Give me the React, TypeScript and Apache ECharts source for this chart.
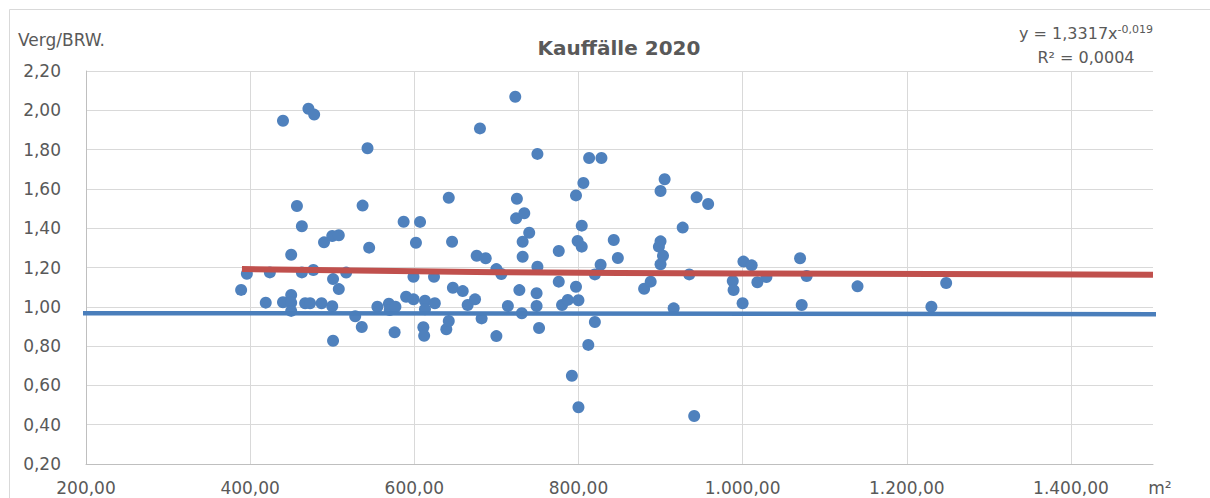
import React, { useEffect, useRef } from "react";
import * as echarts from "echarts";

// Wohnfläche (m²) of each sale
const areaM2 = [
  389, 396, 419, 424, 440, 440, 450, 450, 450, 450, 457, 463, 463, 467, 471, 473, 477, 478, 487, 490,
  500, 500, 501, 501, 508, 508, 517, 528, 536, 537, 543, 545, 555, 569, 570, 577, 576, 587, 590, 599,
  599, 602, 607, 611, 612, 613, 613, 624, 625, 639, 642, 642, 646, 647, 659, 665, 674, 676, 680, 682,
  687, 700, 700, 706, 714, 723, 724, 725, 728, 731, 732, 732, 734, 740, 749, 749, 750, 750, 752, 776,
  776, 780, 787, 792, 797, 797, 799, 800, 800, 804, 804, 806, 812, 813, 820, 820, 827, 828, 843, 848,
  880, 888, 898, 900, 900, 900, 903, 905, 916, 927, 935, 941, 944, 958, 988, 989, 1000, 1001, 1011, 1018,
  1029, 1070, 1072, 1078, 1140, 1230, 1248,
];
// Vergleichswert / BRW ratio of each sale
const ratio = [
  1.086, 1.168, 1.021, 1.175, 1.947, 1.023, 1.265, 1.06, 1.02, 0.979, 1.513, 1.41, 1.175, 1.018, 2.008, 1.018, 1.187, 1.978, 1.018, 1.328,
  1.36, 1.003, 1.141, 0.827, 1.364, 1.09, 1.174, 0.952, 0.897, 1.515, 1.807, 1.301, 1.0, 1.016, 0.984, 1.0, 0.87, 1.433, 1.051, 1.153,
  1.038, 1.326, 1.432, 0.896, 0.853, 1.031, 0.987, 1.153, 1.018, 0.886, 0.928, 1.555, 1.331, 1.097, 1.08, 1.009, 1.038, 1.26, 1.908, 0.941,
  1.247, 1.192, 0.851, 1.167, 1.004, 2.069, 1.45, 1.55, 1.085, 0.967, 1.255, 1.331, 1.476, 1.377, 1.069, 1.004, 1.778, 1.204, 0.892, 1.284,
  1.128, 1.009, 1.035, 0.649, 1.567, 1.102, 1.335, 1.033, 0.489, 1.413, 1.306, 1.63, 0.806, 1.757, 1.165, 0.923, 1.214, 1.757, 1.34, 1.248,
  1.092, 1.128, 1.306, 1.589, 1.333, 1.216, 1.26, 1.649, 0.992, 1.403, 1.165, 0.444, 1.557, 1.523, 1.131, 1.085, 1.018, 1.23, 1.211, 1.125,
  1.152, 1.247, 1.009, 1.157, 1.104, 1.0, 1.121,
];

// power trendline
const trendX = [390, 700, 1000, 1500];
const trendY = [1.192, 1.176, 1.17, 1.163];

// blue reference line
const refX = [107, 1523];
const refY = [0.968, 0.962];

const title = "Kauffälle 2020";
const yName = "Verg/BRW.";
const xName = "m²";

const fmtDE = (v: number, d: number) => {
  const s = v.toFixed(d);
  const [i, f] = s.split(".");
  return i.replace(/\B(?=(\d{3})+(?!\d))/g, ".") + "," + f;
};

const FONT = "DejaVu Sans";
const GREY = "#595959";

export default function App() {
  const ref = useRef<HTMLDivElement>(null);
  useEffect(() => {
    document.body.style.margin = "0";
    const chart = echarts.init(ref.current!, undefined, { renderer: "svg" });
    chart.setOption({
      animation: false,
      backgroundColor: "#ffffff",
      title: {
        text: title,
        left: 614,
        top: 33,
        textAlign: "center",
        textStyle: { fontFamily: FONT, fontSize: 20, fontWeight: "bold", color: GREY },
      },
      grid: { left: 86, top: 71, right: 57, bottom: 34 },
      xAxis: {
        type: "value",
        min: 200,
        max: 1500,
        interval: 200,
        axisLine: { show: true, lineStyle: { color: "#BFBFBF", width: 1 } },
        axisTick: { show: false },
        axisLabel: {
          showMaxLabel: false,
          margin: 15,
          fontFamily: FONT,
          fontSize: 17,
          color: GREY,
          formatter: (v: number) => fmtDE(v, 2),
        },
        splitLine: { show: true, showMaxLine: false, lineStyle: { color: "#D9D9D9", width: 1 } },
      },
      yAxis: {
        type: "value",
        min: 0.2,
        max: 2.2,
        interval: 0.2,
        axisLine: { show: true, lineStyle: { color: "#BFBFBF", width: 1 } },
        axisTick: { show: false },
        axisLabel: {
          margin: 25,
          fontFamily: FONT,
          fontSize: 17,
          color: GREY,
          formatter: (v: number) => fmtDE(v, 2),
        },
        splitLine: { show: true, lineStyle: { color: "#D9D9D9", width: 1 } },
      },
      graphic: [
        {
          type: "rect",
          shape: { x: 9.5, y: 9.5, width: 1230, height: 520 },
          style: { fill: "none", stroke: "#D9D9D9", lineWidth: 1 },
          silent: true,
          z: -10,
        },
        {
          type: "text",
          x: 18,
          y: 40,
          style: { text: yName, fontFamily: FONT, fontSize: 17, fill: GREY, textVerticalAlign: "middle" },
        },
        {
          type: "text",
          x: 1160,
          y: 488,
          style: { text: xName, fontFamily: FONT, fontSize: 17, fill: GREY, textAlign: "center", textVerticalAlign: "middle" },
        },
        {
          type: "rect",
          shape: { x: 998, y: 11, width: 155, height: 59 },
          style: { fill: "#ffffff" },
          z: 10,
        },
        {
          type: "text",
          x: 1086,
          y: 33,
          z: 11,
          style: {
            text: "{b|y = 1,3317x}{s|-0,019}",
            rich: {
              b: { fontFamily: FONT, fontSize: 16, fill: GREY },
              s: { fontFamily: FONT, fontSize: 11, fill: GREY, verticalAlign: "top", padding: [0, 0, 8, 0] },
            },
            textAlign: "center",
            textVerticalAlign: "middle",
          },
        },
        {
          type: "text",
          x: 1086,
          y: 57,
          z: 11,
          style: {
            text: "R² = 0,0004",
            fontFamily: FONT,
            fontSize: 16,
            fill: GREY,
            textAlign: "center",
            textVerticalAlign: "middle",
          },
        },
      ],
      series: [
        {
          type: "scatter",
          data: areaM2.map((x, i) => [x, ratio[i]]),
          symbolSize: 12,
          itemStyle: { color: "#4F81BD", opacity: 1 },
          z: 2,
        },
        {
          type: "line",
          data: refX.map((x, i) => [x, refY[i]]),
          showSymbol: false,
          clip: false,
          lineStyle: { color: "#4A7EBB", width: 4.5 },
          z: 3,
        },
        {
          type: "line",
          data: trendX.map((x, i) => [x, trendY[i]]),
          showSymbol: false,
          smooth: true,
          lineStyle: { color: "#C0504D", width: 6 },
          z: 4,
        },
      ],
    });
    return () => chart.dispose();
  }, []);
  return <div ref={ref} style={{ width: 1210, height: 498 }} />;
}
